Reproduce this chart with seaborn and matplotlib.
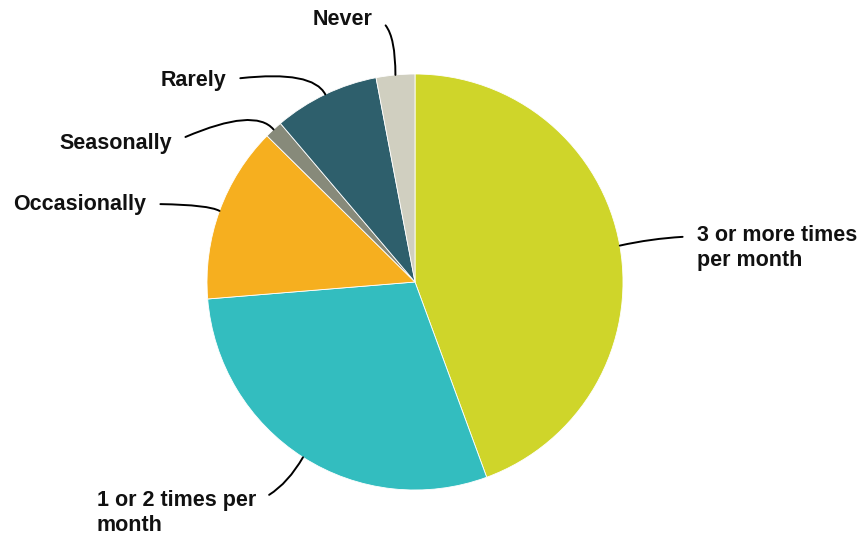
import matplotlib
matplotlib.use("Agg")
import matplotlib.pyplot as plt
import seaborn as sns
import numpy as np

# shares (percent), clockwise from 12 o'clock
labels = ["3 or more times\nper month", "1 or 2 times per\nmonth", "Occasionally",
          "Seasonally", "Rarely", "Never"]
shares = [44.4, 29.3, 13.7, 1.4, 8.2, 3.0]
colors = ["#CFD52A", "#33BDBF", "#F6AF1F", "#878A7A", "#2E5F6C", "#D0CFC0"]

sns.set_style("white")
plt.rcParams["font.family"] = ["Liberation Sans", "DejaVu Sans"]

fig = plt.figure(figsize=(8.62, 5.4), dpi=100)
ax = fig.add_axes([0, 0, 1, 1])

# work in pixel-like units so the layout is easy to place
cx, cy, r = 415, 258, 208
wedges, _ = ax.pie(shares, colors=colors, startangle=90, counterclock=False,
                   center=(cx, cy), radius=r,
                   wedgeprops=dict(linewidth=0.6, edgecolor="white"))

# label placement: (x, y, ha, relpos, connection)
label_pos = [
    (697, 292, "left", (0, 0.75), "arc3,rad=0.05"),
    (256, 27, "right", (1, 0.75), "angle3,angleA=20,angleB=60"),
    (146, 336, "right", (1, 0.5), "angle3,angleA=0,angleB=-30"),
    (172, 397, "right", (1, 0.5), "angle3,angleA=25,angleB=-50"),
    (226, 460, "right", (1, 0.5), "angle3,angleA=8,angleB=-63"),
    (373, 521, "right", (1, 0.5), "angle3,angleA=0,angleB=90"),
]

for w, lab, (tx, ty, ha, rp, cs) in zip(wedges, labels, label_pos):
    mid = np.deg2rad((w.theta1 + w.theta2) / 2)
    px, py = cx + r * np.cos(mid), cy + r * np.sin(mid)
    ax.annotate(lab, xy=(px, py), xytext=(tx, ty), ha=ha, va="center",
                fontsize=15.5, fontweight="bold", color="#111111",
                multialignment="left", linespacing=1.3,
                arrowprops=dict(arrowstyle="-", color="black", lw=1.4,
                                connectionstyle=cs, relpos=rp,
                                shrinkA=8, shrinkB=0))

ax.set_xlim(0, 862)
ax.set_ylim(0, 540)
ax.set_aspect("equal")
ax.axis("off")

fig.savefig("out.png", dpi=100)
